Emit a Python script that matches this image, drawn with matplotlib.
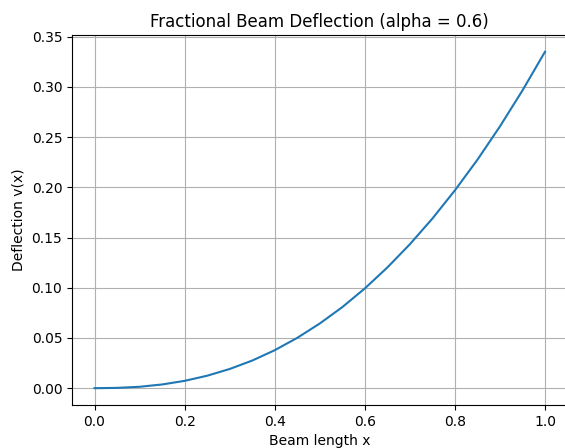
import matplotlib
matplotlib.use("Agg")
from matplotlib import pyplot as plt

# values
x = [0.0, 0.05, 0.1, 0.15, 0.2, 0.25, 0.3, 0.35, 0.4, 0.45, 0.5,
     0.55, 0.6, 0.65, 0.7, 0.75, 0.8, 0.85, 0.9, 0.95, 1.0]
v = [0.0, 0.0003, 0.0014, 0.0037, 0.0073, 0.0124, 0.0191, 0.0275, 0.0378, 0.0501, 0.0644,
     0.0807, 0.0993, 0.1202, 0.1433, 0.1689, 0.197, 0.2275, 0.2607, 0.2965, 0.335]

fig = plt.figure(figsize=(5.65, 4.48), dpi=100)
# right edge of the axes sits just past the canvas, like the cropped original
ax = fig.add_axes([72/565, 43/448, (567.5-72)/565, 370/448])
ax.plot(x, v, color='#1f77b4', linewidth=1.5)
ax.set_title('Fractional Beam Deflection (alpha = 0.6)', fontsize=12)
ax.set_xlabel('Beam length x')
ax.set_ylabel('Deflection v(x)')
ax.grid(True)
fig.savefig('out.png', dpi=100)
